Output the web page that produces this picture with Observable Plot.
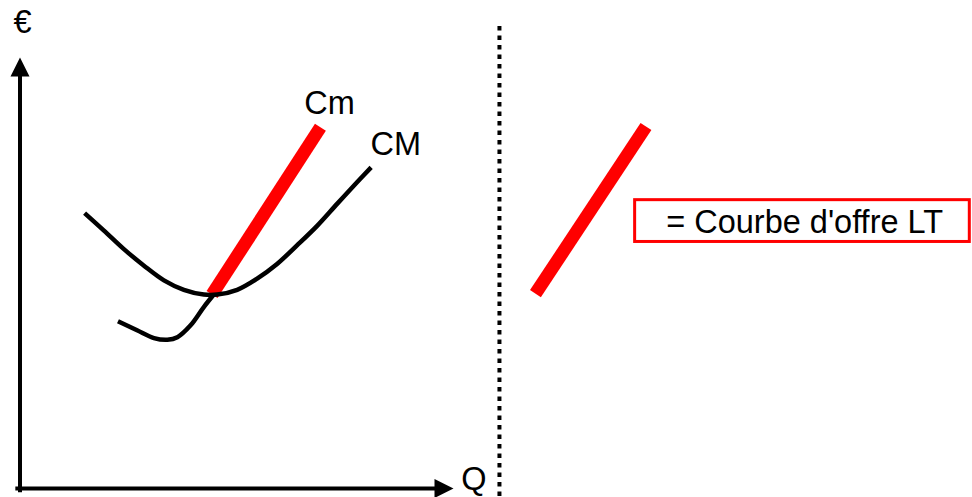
<!DOCTYPE html>
<html>
<head>
<meta charset="utf-8">
<script src="https://cdn.jsdelivr.net/npm/d3@7"></script>
<script src="https://cdn.jsdelivr.net/npm/@observablehq/plot@0.6"></script>
<style>
  html, body { margin: 0; padding: 0; background: #fff; }
  svg { display: block; }
</style>
</head>
<body>
<div id="chart"></div>
<script>
// Average cost (CM) curve: quantity vs €
const avgCostQ   = [14.9, 19.3, 23.9, 28.6, 33.2, 37.8, 42.4, 45.5, 50.1, 54.7, 59.3, 63.9, 68.6, 73.2, 77.8, 81.0];
const avgCostEur = [63.9, 59.9, 55.6, 51.7, 48.3, 46.1, 45.0, 45.0, 46.1, 48.7, 52.1, 56.4, 61.0, 66.1, 71.1, 74.5];
// Marginal cost (Cm) curve, part below the CM minimum
const margCostQ   = [22.6, 27.0, 30.9, 34.0, 36.3, 39.3, 42.4, 44.7];
const margCostEur = [38.8, 36.7, 34.9, 34.5, 35.1, 37.8, 42.1, 45.0];
// Marginal cost above the CM minimum (supply segment, red)
const supplyQ   = [44.3, 69.3];
const supplyEur = [45.0, 83.8];
// Long-term supply curve drawn in the right panel
const supplyLTQ   = [118.9, 144.4];
const supplyLTEur = [45.2, 84.0];
// Axes extents, divider and legend box
const axisMax = 100;
const axisLineEnd = 96;
const dividerQ = 110.6;
const dividerEur = [-3, 107.2];
const boxQ = [141.9, 219.1];
const boxEur = [57.2, 66.9];
// Labels
const labelText = ["Cm", "CM", "Q", "€", "= Courbe d'offre LT"];
const labelQ    = [71.4, 86.7, 104.7, 0.6, 181.0];
const labelEur  = [89.3, 79.9, 2.0, 108.0, 61.7];

const toPts = (xs, ys) => xs.map((x, i) => ({x, y: ys[i]}));
const labels = labelText.map((t, i) => ({t, x: labelQ[i], y: labelEur[i]}));

const arrowHead = {
  draw(ctx) {
    ctx.moveTo(0, 0);
    ctx.lineTo(9.5, 19);
    ctx.lineTo(-9.5, 19);
    ctx.closePath();
  }
};

const font = "'Liberation Sans', Arial, Helvetica, sans-serif";

const chart = Plot.plot({
  width: 972,
  height: 497,
  margin: 0,
  style: {fontFamily: font, background: "white"},
  x: {domain: [0, axisMax], range: [19.5, 453], axis: null},
  y: {domain: [0, axisMax], range: [488, 57], axis: null},
  marks: [
    // axes
    Plot.ruleX([0], {y1: -0.5, y2: axisLineEnd, stroke: "black", strokeWidth: 4, strokeLinecap: "square"}),
    Plot.ruleY([0], {x1: -0.5, x2: axisLineEnd, stroke: "black", strokeWidth: 4, strokeLinecap: "square"}),
    Plot.dot([{x: 0, y: axisMax}], {x: "x", y: "y", symbol: arrowHead, fill: "black", stroke: "none", r: 5}),
    Plot.dot([{x: axisMax, y: 0}], {x: "x", y: "y", symbol: arrowHead, fill: "black", stroke: "none", r: 5, rotate: 90}),
    // divider
    Plot.ruleX([dividerQ], {y1: dividerEur[1], y2: dividerEur[0], stroke: "black", strokeWidth: 4, strokeDasharray: "4.5,5"}),
    // red supply segments
    Plot.line(toPts(supplyQ, supplyEur), {x: "x", y: "y", stroke: "#ff0000", strokeWidth: 13, strokeLinecap: "butt"}),
    Plot.line(toPts(supplyLTQ, supplyLTEur), {x: "x", y: "y", stroke: "#ff0000", strokeWidth: 13, strokeLinecap: "butt"}),
    // cost curves
    Plot.line(toPts(avgCostQ, avgCostEur), {x: "x", y: "y", stroke: "black", strokeWidth: 4.5, curve: "catmull-rom", strokeLinecap: "butt"}),
    Plot.line(toPts(margCostQ, margCostEur), {x: "x", y: "y", stroke: "black", strokeWidth: 4.5, curve: "catmull-rom", strokeLinecap: "butt"}),
    // legend box
    Plot.rect([{x1: boxQ[0], x2: boxQ[1], y1: boxEur[0], y2: boxEur[1]}], {x1: "x1", x2: "x2", y1: "y1", y2: "y2", fill: "none", stroke: "#ff0000", strokeWidth: 3}),
    // labels
    Plot.text(labels, {x: "x", y: "y", text: "t", fontSize: 32.5, fill: "black", textAnchor: "middle", lineAnchor: "middle", fontFamily: font})
  ]
});
document.getElementById("chart").append(chart);
</script>
</body>
</html>
